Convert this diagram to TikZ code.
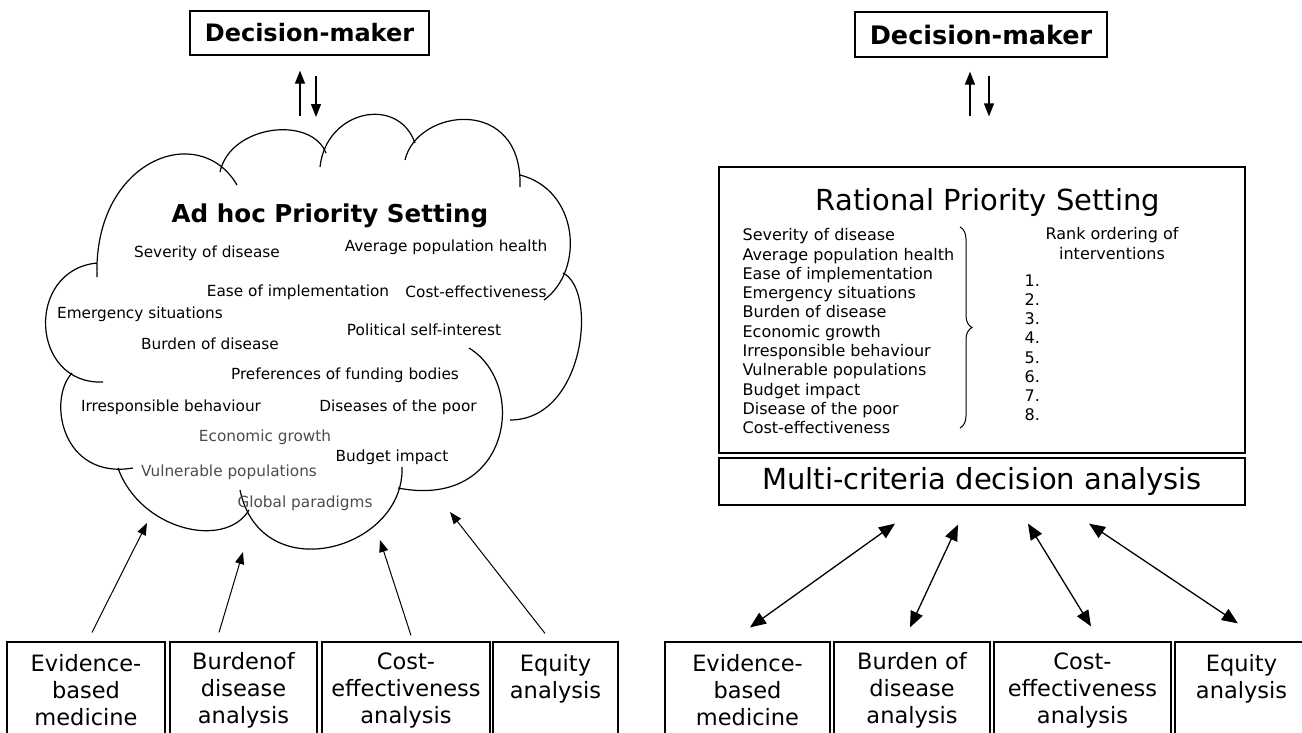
\documentclass[tikz,border=0pt]{standalone}
\usepackage{fontspec}
\setmainfont{DejaVu Sans}
\usepackage{tikz}
\usetikzlibrary{arrows.meta,positioning,decorations.pathreplacing}

\begin{document}
\begin{tikzpicture}[x=1pt, y=-1pt, line width=1.2pt,
   dmbox/.style={draw, rectangle, inner sep=0pt, font=\fontsize{24}{28}\selectfont\bfseries},
   toolbox/.style={draw, rectangle, inner sep=0pt, minimum height=96pt, align=center, font=\fontsize{22.5}{27}\selectfont},
   crit/.style={inner sep=0pt, font=\fontsize{15.3}{18}\selectfont},
   greycrit/.style={crit, text=black!70},
   cloudline/.style={line width=1.2pt},
   vert/.style={-{Triangle[length=13pt,width=10pt]}, line width=1.2pt},
   arr/.style={-{Triangle[length=12pt,width=9pt]}, line width=1pt},
   dblarr/.style={{Triangle[length=16pt,width=13pt]}-{Triangle[length=16pt,width=13pt]}, line width=1.3pt}]
   \useasboundingbox (0,0) rectangle (1302,732);

   % left: ad hoc
   \node[dmbox, minimum width=239pt, minimum height=44pt] (dmL) at (309.5,33) {Decision-maker};

   \draw[cloudline] (97,277) .. controls (93,160) and (199,120) .. (237,185);
   \draw[cloudline] (220,172) .. controls (230,125) and (311,115) .. (326,153);
   \draw[cloudline] (320,167) .. controls (326,110) and (398,95) .. (415,143);
   \draw[cloudline] (405,160) .. controls (417,108) and (523,95) .. (520,187);
   \draw[cloudline] (520,175) .. controls (579,190) and (585,270) .. (544,300);
   \draw[cloudline] (563,273) .. controls (598,290) and (585,420) .. (510,420);
   \draw[cloudline] (469,348) .. controls (529,385) and (510,510) .. (398,488);
   \draw[cloudline] (402,467) .. controls (405,550) and (261,590) .. (240,490);
   \draw[cloudline] (118,468) .. controls (140,530) and (225,550) .. (249,510);
   \draw[cloudline] (72,373) .. controls (47,400) and (62,480) .. (133,468);
   \draw[cloudline] (97,263) .. controls (25,270) and (30,385) .. (103,382);

   \node[inner sep=0pt, font=\fontsize{24.6}{30}\selectfont\bfseries] (adhoc) at (330,216) {Ad hoc Priority Setting};
   \node[crit] (sev) at (207,253) {Severity of disease};
   \node[crit] (avg) at (446,247) {Average population health};
   \node[crit] (ease) at (298,292) {Ease of implementation};
   \node[crit] (ce) at (476,292) {Cost-effectiveness};
   \node[crit] (emerg) at (140,314) {Emergency situations};
   \node[crit] (pol) at (424,330) {Political self-interest};
   \node[crit] (bod) at (210,344) {Burden of disease};
   \node[crit] (pref) at (345,375) {Preferences of funding bodies};
   \node[crit] (irr) at (171,407) {Irresponsible behaviour};
   \node[crit] (dop) at (398,407) {Diseases of the poor};
   \node[greycrit] (econ) at (265,437) {Economic growth};
   \node[crit] (budget) at (392,457) {Budget impact};
   \node[greycrit] (vuln) at (229,472) {Vulnerable populations};
   \node[greycrit] (glob) at (305,503) {Global paradigms};

   \node[toolbox, minimum width=158pt] (ebmL) at (86,690) {Evidence-\\based\\medicine};
   \node[toolbox, minimum width=147pt] (bodL) at (243.5,690) {Burdenof\\disease\\analysis};
   \node[toolbox, minimum width=168pt] (ceaL) at (406,690) {Cost-\\effectiveness\\analysis};
   \node[toolbox, minimum width=125pt] (eqL) at (555.5,690) {Equity\\analysis\\~};

   \coordinate (topA) at (300,116);
   \coordinate (topB) at (316,117);
   \coordinate (h1) at (147,523);
   \coordinate (h2) at (243,552);
   \coordinate (h3) at (380,540);
   \coordinate (h4) at (450,512);

   \path[vert]
     (topA) edge ([xshift=-9.5pt,yshift=-15pt]dmL.south)
     ([xshift=6.5pt,yshift=-20pt]dmL.south) edge (topB);
   \path[arr]
     ([xshift=6pt,yshift=9pt]ebmL.north) edge (h1)
     ([xshift=-24.5pt,yshift=9pt]bodL.north) edge (h2)
     ([xshift=5pt,yshift=6pt]ceaL.north) edge (h3)
     ([xshift=-10.5pt,yshift=8pt]eqL.north) edge (h4);

   % right: rational
   \node[dmbox, minimum width=252pt, minimum height=45pt, font=\fontsize{25.5}{30}\selectfont\bfseries] (dmR) at (981,34.5) {Decision-maker};
   \node[draw, minimum width=526pt, minimum height=286pt, inner sep=0pt] (rps) at (982,310) {};
   \node[inner sep=0pt, font=\fontsize{29}{35}\selectfont] (rpsT) at (988,202) {Rational Priority Setting};
   \node[anchor=north west, inner sep=0pt, align=left, font=\fontsize{16}{19.3}\selectfont] (crits) at (742,228)
     {Severity of disease\\Average population health\\Ease of implementation\\Emergency situations\\Burden of disease\\Economic growth\\Irresponsible behaviour\\Vulnerable populations\\Budget impact\\Disease of the poor\\Cost-effectiveness};
   \node[inner sep=0pt, align=center, font=\fontsize{16}{19.3}\selectfont] (rank) at (1112,243.5) {Rank ordering of\\interventions};
   \node[anchor=north west, inner sep=0pt, align=left, font=\fontsize{16}{19.2}\selectfont] (ranks) at (1024,274) {1.\\2.\\3.\\4.\\5.\\6.\\7.\\8.};
   \coordinate (braceT) at (960,227);
   \coordinate (braceB) at (960,428);
   \draw[decorate, decoration={brace, amplitude=12pt}, line width=1pt] (braceT) -- (braceB);

   \node[draw, minimum width=526pt, minimum height=47pt, inner sep=0pt, font=\fontsize{29}{35}\selectfont] (mcda) at (982,481.5) {Multi-criteria decision analysis};

   \node[toolbox, minimum width=165pt] (ebmR) at (747.5,690) {Evidence-\\based\\medicine};
   \node[toolbox, minimum width=156pt] (bodR) at (912,690) {Burden of\\disease\\analysis};
   \node[toolbox, minimum width=177pt] (ceaR) at (1082.5,690) {Cost-\\effectiveness\\analysis};
   \node[toolbox, minimum width=133pt] (eqR) at (1241.5,690) {Equity\\analysis\\~};

   \path[vert]
     ([xshift=-12pt,yshift=50pt]rps.north) edge ([xshift=-11pt,yshift=-14pt]dmR.south)
     ([xshift=8pt,yshift=-18pt]dmR.south) edge ([xshift=7pt,yshift=50pt]rps.north);
   \path[dblarr]
     ([xshift=2.5pt,yshift=14pt]ebmR.north) edge ([xshift=-87pt,yshift=-18pt]mcda.south)
     ([xshift=-2pt,yshift=14pt]bodR.north) edge ([xshift=-24pt,yshift=-19pt]mcda.south)
     ([xshift=8.5pt,yshift=15pt]ceaR.north) edge ([xshift=46pt,yshift=-18pt]mcda.south)
     ([xshift=-3.5pt,yshift=18pt]eqR.north) edge ([xshift=107pt,yshift=-18pt]mcda.south);
\end{tikzpicture}
\end{document}
